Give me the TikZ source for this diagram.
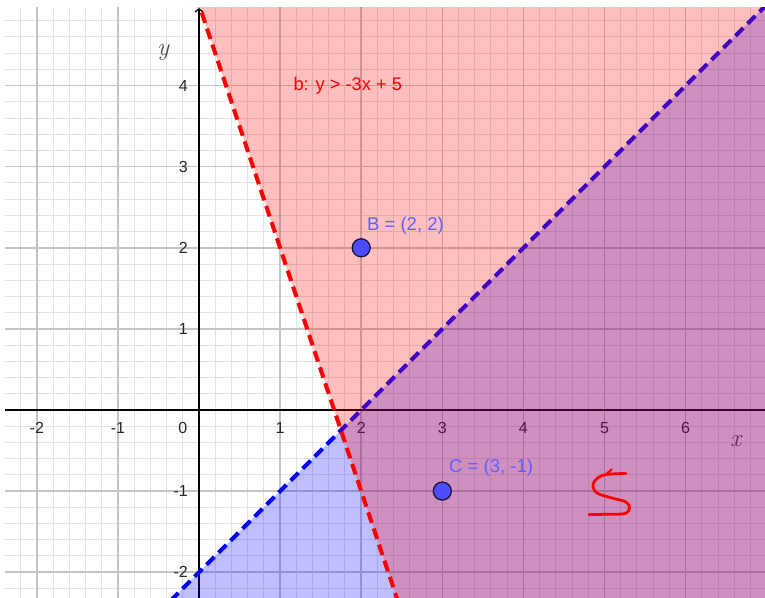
\documentclass[tikz,border=0pt]{standalone}
\usepackage{fontspec}
\setmainfont{Liberation Sans}
\newfontfamily\lmroman{Latin Modern Roman}
\usetikzlibrary{arrows.meta}
\definecolor{ptblue}{RGB}{77,77,255}
\definecolor{lblblue}{RGB}{95,95,255}
\definecolor{majgrid}{RGB}{196,196,196}
\definecolor{mingrid}{RGB}{226,226,226}
\definecolor{ptedge}{RGB}{20,20,60}
\begin{document}
\begin{tikzpicture}[x=81.1pt,y=81.1pt,
  ticklbl/.style={font=\fontsize{16}{16}\selectfont, text=black!85, inner sep=0pt},
  axlbl/.style={font=\lmroman\itshape\fontsize{25}{25}\selectfont, text=black!70, inner sep=0pt},
  ptnode/.style={circle, fill=ptblue, draw=ptedge, line width=1.3pt, minimum size=18pt, inner sep=0pt},
  ptlbl/.style={font=\fontsize{18.5}{18.5}\selectfont, text=lblblue, inner sep=0pt, anchor=west},
  eqlbl/.style={font=\fontsize{18.3}{18.3}\selectfont, text=red, inner sep=0pt, anchor=west},
  bound/.style={line width=4pt, dash pattern=on 11pt off 6pt},
  axisline/.style={line width=1.6pt, black}]
\useasboundingbox (-2.4538,-2.3181) rectangle (6.9790,5.0555);
\fill[white] (-2.4538,-2.3181) rectangle (6.9790,5.0555);
\begin{scope}
\clip (-2.392,-2.3181) rectangle (6.9790,4.969);
% grid
\draw[mingrid, line width=1pt, step=0.2] (-2.6,-2.6) grid (7.2,5.2);
\draw[majgrid, line width=1.6pt, step=1] (-3,-3) grid (7.2,5.2);
% axes
\draw[axisline] (-2.5,0) -- (7.1,0);
\draw[axisline, -{Straight Barb[length=3pt,width=8pt,line width=1.3pt]}] (0,-2.5) -- (0,4.955);
% tick labels
\foreach \v in {-2,-1,1,2,3,4,5,6} \node[ticklbl] (tx\v) at (\v,-0.222) {\v};
\node[ticklbl] (t0) at (-0.201,-0.222) {0};
\foreach \v in {-2,-1,1,2,3,4} \node[ticklbl, anchor=east] (ty\v) at (-0.136,\v) {\v};
\node[axlbl] (xl) at (6.618,-0.382) {x};
\node[axlbl] (yl) at (-0.444,4.402) {y};
% blue region y < x - 2
\fill[blue, opacity=0.25] (-0.5,-2.5) -- (7.5,5.5) -- (8,5.5) -- (8,-2.5) -- cycle;
\draw[blue, bound] (-0.5,-2.5) -- (7.5,5.5);
% red region y > -3x + 5
\fill[red, opacity=0.25] (-0.1,5.3) -- (8,5.3) -- (8,-2.5) -- (2.5,-2.5) -- cycle;
\draw[red, bound] (-0.1,5.3) -- (2.5,-2.5);
\end{scope}
% points
\node[ptnode] (B) at (2,2) {};
\node[ptnode] (C) at (3,-1) {};
\node[ptlbl] (Bl) at (2.071,2.269) {B = (2, 2)};
\node[ptlbl] (Cl) at (3.083,-0.715) {C = (3, -1)};
\node[eqlbl] (bl) at (1.163,4.0) {b: y > -3x + 5};
% hand-drawn S
\begin{scope}[x=1pt,y=-1pt,shift={(-199pt,410pt)}]
\draw[red, line width=2.8pt, line cap=round, line join=round]
  plot[smooth, tension=0.6] coordinates {(626,473.5) (612,474) (602,475.5) (595,480.5) (593,487) (598,493.5) (613,498.3) (626,502) (629.5,508) (625,513.5) (610,514.2) (589,514.5)};
\draw[red, line width=2.2pt, line cap=round] (611.5,469.5) -- (606.5,474);
\end{scope}
\end{tikzpicture}
\end{document}
